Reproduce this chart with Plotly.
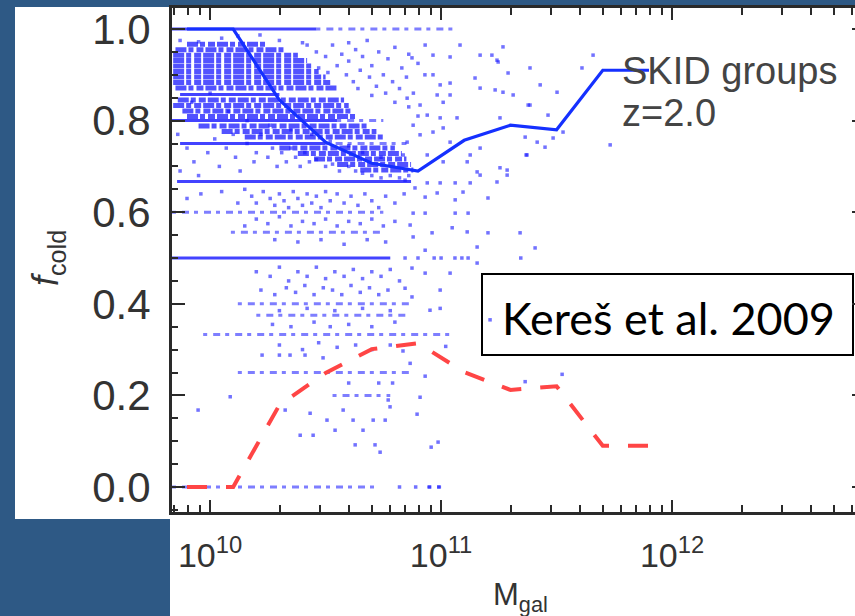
import plotly.graph_objects as go

# ---------------- data ----------------
# x values are log10(M_gal); converted to masses for the log axis
median_logm = [9.9, 10.1, 10.3, 10.5, 10.7, 10.9, 11.1, 11.3, 11.5, 11.7, 11.9]
median_f = [1.0, 1.0, 0.845, 0.753, 0.707, 0.69, 0.757, 0.79, 0.78, 0.91, 0.91]

red_logm = [9.9, 10.1, 10.3, 10.5, 10.7, 10.9, 11.1, 11.3, 11.5, 11.7, 11.9]
red_f = [0.0, 0.0, 0.179, 0.249, 0.301, 0.314, 0.251, 0.212, 0.22, 0.09, 0.09]

# rows of galaxies sitting on simple fractions (dense / sparse)
dense_row_f = [1.0, 0.857, 0.8, 0.75, 0.667, 0.5]
dense_row_x0 = [9.835, 9.87, 9.835, 9.87, 9.857, 9.835]
dense_row_x1 = [10.46, 10.3, 10.55, 10.5, 10.87, 10.78]

sparse_row_f = [1.0, 0.0, 0.0, 0.6, 0.556, 0.4, 0.375, 0.333, 0.25, 0.2, 0.75, 0.8]
sparse_row_x0 = [10.46, 9.835, 10.94, 9.835, 10.09, 10.12, 10.2, 9.97, 10.12, 10.53, 10.5, 10.55]
sparse_row_x1 = [11.05, 10.72, 11.0, 10.75, 10.75, 10.87, 10.85, 11.05, 10.87, 10.78, 10.85, 10.75]

# densely packed core of the cloud, seen as closely stacked rows
core_row_f = [0.967, 0.955, 0.943, 0.931, 0.919, 0.907, 0.895, 0.883, 0.871, 0.845, 0.833,
              0.821, 0.809, 0.788, 0.776, 0.764, 0.740, 0.728, 0.716, 0.704, 0.692]
core_row_x0 = [9.90, 9.85, 9.84, 9.84, 9.84, 9.84, 9.84, 9.84, 9.85, 9.86, 9.84,
               9.88, 9.90, 9.95, 10.05, 10.15, 10.30, 10.38, 10.45, 10.55, 10.65]
core_row_x1 = [10.25, 10.33, 10.38, 10.42, 10.45, 10.47, 10.50, 10.52, 10.55, 10.58, 10.60,
               10.62, 10.64, 10.68, 10.72, 10.75, 10.80, 10.83, 10.85, 10.87, 10.88]

# scattered galaxies outside the core
cloud_pts = [
    # inside / around the core
    (9.87, 0.975), (9.95, 0.972), (10.216, 0.987), (10.05, 0.98), (10.3, 0.975), (10.4, 0.97),
    (10.12, 0.985), (9.92, 0.84), (10.0, 0.86), (10.08, 0.82), (10.16, 0.8), (10.26, 0.79),
    (10.35, 0.78), (10.44, 0.77), (10.52, 0.755), (10.6, 0.745), (10.66, 0.73), (10.74, 0.72),
    # upper middle
    (10.42, 0.965), (10.46, 0.95), (10.5, 0.94), (10.53, 0.965), (10.57, 0.945), (10.6, 0.93),
    (10.63, 0.955), (10.66, 0.94), (10.7, 0.92), (10.73, 0.95), (10.77, 0.935), (10.8, 0.96),
    (10.83, 0.915), (10.86, 0.945), (10.47, 0.915), (10.51, 0.905), (10.55, 0.92), (10.59, 0.9),
    (10.62, 0.885), (10.65, 0.91), (10.69, 0.895), (10.72, 0.875), (10.75, 0.9), (10.79, 0.885),
    (10.82, 0.87), (10.85, 0.895), (10.88, 0.86), (10.6, 0.97), (10.68, 0.975), (10.9, 0.925),
    (10.93, 0.9), (10.76, 0.86), (10.8, 0.84), (10.86, 0.83), (10.9, 0.81), (10.7, 0.855), (10.64, 0.87),
    # right of the minimum
    (10.965, 0.943), (11.039, 0.939), (11.082, 0.965), (10.931, 0.965), (10.874, 0.937),
    (10.965, 0.9), (10.996, 0.878), (11.039, 0.882), (10.983, 0.856), (11.009, 0.84), (11.039, 0.856),
    (10.909, 0.834), (10.853, 0.849), (10.94, 0.812), (10.996, 0.806), (11.069, 0.806), (10.879, 0.79),
    (10.909, 0.769), (10.965, 0.775), (11.009, 0.784), (11.039, 0.753), (10.853, 0.753), (10.836, 0.725),
    (10.94, 0.725), (11.009, 0.71),
    (11.169, 0.943), (11.22, 0.943), (11.247, 0.928), (11.147, 0.893), (11.169, 0.871), (11.234, 0.867),
    (11.268, 0.862), (11.312, 0.856), (11.385, 0.834), (11.463, 0.812), (11.255, 0.806), (11.364, 0.764),
    (11.416, 0.753), (11.45, 0.742), (11.372, 0.725), (11.255, 0.697), (11.286, 0.692), (11.126, 0.725),
    (11.169, 0.74), (11.113, 0.71), (11.156, 0.688),
    (11.658, 0.943), (11.732, 0.747), (11.61, 0.915), (11.528, 0.775), (11.485, 0.762), (11.502, 0.862),
    (11.429, 0.878), (11.385, 0.915), (11.377, 0.834), (11.368, 0.725), (11.268, 0.961), (11.29, 0.904),
    (11.242, 0.932),
    # between 2/3 and 1/2
    (10.844, 0.67), (10.887, 0.653), (10.94, 0.664), (10.996, 0.664), (11.061, 0.664), (11.126, 0.664),
    (11.242, 0.666), (11.169, 0.681), (11.286, 0.681), (10.931, 0.633), (10.983, 0.642), (11.061, 0.627),
    (11.095, 0.644), (11.203, 0.631), (10.879, 0.598), (10.931, 0.598), (11.061, 0.598), (11.117, 0.598),
    (10.866, 0.572), (10.961, 0.555), (11.048, 0.566), (11.113, 0.557), (11.203, 0.555), (11.342, 0.555),
    (10.879, 0.546), (10.931, 0.517), (11.156, 0.524), (11.407, 0.522),
    (10.844, 0.5), (10.9, 0.5), (10.97, 0.5), (11.0, 0.5), (11.06, 0.5), (11.09, 0.5), (11.117, 0.5), (11.345, 0.5),
    (9.86, 0.77), (9.9, 0.74), (9.93, 0.71), (9.87, 0.69), (9.95, 0.68), (9.99, 0.73), (10.02, 0.76),
    (10.04, 0.70), (10.07, 0.74), (10.1, 0.77), (10.11, 0.72), (10.13, 0.69), (10.16, 0.75), (10.19, 0.71),
    (10.2, 0.73), (10.22, 0.77), (10.25, 0.72), (10.27, 0.74), (10.29, 0.70), (10.31, 0.73), (10.33, 0.71),
    (10.35, 0.74), (10.37, 0.72), (10.39, 0.70), (10.41, 0.73), (10.43, 0.71), (10.46, 0.715), (10.5, 0.70),
    (10.53, 0.705), (10.56, 0.69), (10.6, 0.70), (10.63, 0.69), (10.66, 0.685), (10.7, 0.68), (10.74, 0.675),
    (10.78, 0.68), (10.82, 0.675), (10.86, 0.68),
    (9.9, 0.63), (9.96, 0.64), (10.05, 0.645), (10.12, 0.62), (10.15, 0.65), (10.18, 0.635),
    (10.2, 0.62), (10.23, 0.645), (10.26, 0.63), (10.28, 0.615), (10.3, 0.64), (10.32, 0.625), (10.34, 0.61),
    (10.36, 0.645), (10.38, 0.63), (10.4, 0.615), (10.42, 0.64), (10.44, 0.62), (10.46, 0.635), (10.48, 0.61),
    (10.5, 0.645), (10.52, 0.625), (10.55, 0.64), (10.58, 0.62), (10.61, 0.635), (10.64, 0.615), (10.67, 0.64),
    (10.7, 0.625), (10.73, 0.61), (10.76, 0.635), (10.8, 0.62), (10.84, 0.64),
    (10.15, 0.57), (10.2, 0.585), (10.25, 0.575), (10.3, 0.59), (10.35, 0.57), (10.4, 0.58), (10.45, 0.575),
    (10.5, 0.585), (10.55, 0.57), (10.6, 0.58), (10.65, 0.575), (10.7, 0.585), (10.75, 0.57), (10.8, 0.58),
    (10.28, 0.54), (10.38, 0.535), (10.48, 0.54), (10.58, 0.53), (10.68, 0.54), (10.76, 0.535),
    # between 1/2 and 1/4
    (10.2, 0.47), (10.26, 0.46), (10.3, 0.48), (10.34, 0.45), (10.38, 0.47), (10.42, 0.46), (10.46, 0.48),
    (10.5, 0.455), (10.54, 0.47), (10.58, 0.46), (10.62, 0.475), (10.66, 0.455), (10.7, 0.47), (10.74, 0.46),
    (10.78, 0.475), (10.82, 0.45), (10.874, 0.478), (10.931, 0.467), (11.039, 0.467), (11.156, 0.489),
    (10.22, 0.43), (10.28, 0.42), (10.33, 0.435), (10.37, 0.425), (10.41, 0.44), (10.45, 0.42), (10.49, 0.435),
    (10.53, 0.43), (10.57, 0.42), (10.61, 0.44), (10.65, 0.425), (10.69, 0.435), (10.73, 0.42), (10.77, 0.43),
    (10.844, 0.434), (10.874, 0.415), (10.996, 0.43), (10.952, 0.386), (10.996, 0.39), (11.212, 0.365),
    (10.3, 0.385), (10.42, 0.39), (10.54, 0.385), (10.66, 0.39), (10.78, 0.385),
    (10.27, 0.355), (10.35, 0.35), (10.45, 0.36), (10.52, 0.35), (10.6, 0.355), (10.7, 0.35), (10.8, 0.36),
    (10.3, 0.31), (10.4, 0.3), (10.47, 0.315), (10.55, 0.305), (10.63, 0.31), (10.7, 0.3), (10.78, 0.31),
    (10.835, 0.297), (11.02, 0.307), (10.866, 0.27),
    (10.225, 0.288), (10.30, 0.288), (10.346, 0.288), (10.411, 0.288), (10.489, 0.282),
    # low fractions
    (10.087, 0.197), (9.948, 0.168), (10.325, 0.168), (10.433, 0.161), (10.506, 0.146), (10.619, 0.146),
    (10.706, 0.146), (10.758, 0.146), (10.39, 0.113), (10.446, 0.113), (10.541, 0.124), (10.662, 0.124),
    (10.628, 0.092), (10.714, 0.092), (10.736, 0.076), (10.576, 0.168), (10.771, 0.19),
    (10.6, 0.227), (10.73, 0.227), (10.79, 0.227), (10.931, 0.242), (10.909, 0.196), (10.896, 0.159),
    (10.779, 0.175), (10.957, 0.087), (10.987, 0.098), (11.364, 0.23), (11.524, 0.246),
    (10.82, 0.0), (10.89, 0.0), (10.95, 0.0), (10.99, 0.0),
]

tick_vals = [1e10, 1e11, 1e12]
tick_text = ["10<sup>10</sup>", "10<sup>11</sup>", "10<sup>12</sup>"]

# ---------------- figure ----------------
W, H = 855, 616
ML, MR, MT, MB = 172, 0, 8, 104
PW, PH = W - ML - MR, H - MT - MB


def px(x):
    return (x - ML) / PW


def py(y):
    return (H - MB - y) / PH


fig = go.Figure()


def rows_to_line(fs, x0s, x1s):
    xs, ys = [], []
    for f, a, b in zip(fs, x0s, x1s):
        xs += [10 ** a, 10 ** b, None]
        ys += [f, f, None]
    return xs, ys


xs, ys = rows_to_line(core_row_f, core_row_x0, core_row_x1)
fig.add_trace(go.Scatter(x=xs, y=ys, mode="lines", hoverinfo="skip",
                         line=dict(color="rgba(0,0,255,0.68)", width=5,
                                   dash="11px,2px,5px,3px,7px,2px")))
xs, ys = rows_to_line(dense_row_f, dense_row_x0, dense_row_x1)
fig.add_trace(go.Scatter(x=xs, y=ys, mode="lines", hoverinfo="skip",
                         line=dict(color="rgba(20,20,255,0.8)", width=3)))
xs, ys = rows_to_line(sparse_row_f, sparse_row_x0, sparse_row_x1)
fig.add_trace(go.Scatter(x=xs, y=ys, mode="lines", hoverinfo="skip",
                         line=dict(color="rgba(40,40,255,0.6)", width=3, dash="4px,6px,7px,5px")))

fig.add_trace(go.Scatter(x=[10 ** p[0] for p in cloud_pts], y=[p[1] for p in cloud_pts],
                         mode="markers", hoverinfo="skip",
                         marker=dict(symbol="square", size=3.5, color="rgba(20,20,255,0.6)",
                                     line=dict(width=0))))

fig.add_trace(go.Scatter(x=[10 ** v for v in median_logm], y=median_f, mode="lines",
                         line=dict(color="#1530ff", width=3.2), hoverinfo="skip"))
fig.add_trace(go.Scatter(x=[10 ** v for v in red_logm], y=red_f, mode="lines",
                         line=dict(color="#ff4545", width=4, dash="20px,19px"), hoverinfo="skip"))

# dummy trace so that the right-hand tick axis is drawn
fig.add_trace(go.Scatter(x=[None], y=[None], yaxis="y2", hoverinfo="skip"))

minor_x = [m * 10 ** k for k in range(9, 13) for m in range(2, 10)]

AX = "#2a2a2a"
fig.update_layout(
    width=W, height=H,
    margin=dict(l=ML, r=MR, t=MT, b=MB),
    paper_bgcolor="#2e5985",
    plot_bgcolor="white",
    showlegend=False,
    xaxis=dict(type="log", range=[9.835, 12.792], tickvals=tick_vals, ticktext=tick_text,
               ticks="inside", ticklen=12, tickwidth=2, tickcolor=AX,
               minor=dict(tickvals=minor_x, ticks="inside", ticklen=7, tickwidth=2, tickcolor=AX),
               showline=True, linewidth=3, linecolor=AX, mirror="ticks",
               showgrid=False, zeroline=False,
               tickfont=dict(family="Liberation Sans", size=34, color="#333"),
               ticklabelstandoff=11),
    yaxis=dict(range=[-0.0546, 1.0459], tickvals=[0, 0.2, 0.4, 0.6, 0.8, 1.0],
               ticktext=["0.0", "0.2", "0.4", "0.6", "0.8", "1.0"],
               ticks="inside", ticklen=13, tickwidth=2, tickcolor=AX,
               minor=dict(dtick=0.05, ticks="inside", ticklen=6, tickwidth=2, tickcolor=AX),
               showline=True, linewidth=3, linecolor=AX, mirror=False,
               showgrid=False, zeroline=False,
               tickfont=dict(family="Liberation Sans", size=42, color="#333"),
               ticklabelstandoff=10),
    yaxis2=dict(range=[-0.0546, 1.0459], overlaying="y", side="right",
                tickvals=[0, 0.2, 0.4, 0.6, 0.8, 1.0], ticks="inside", ticklen=3, tickwidth=2,
                tickcolor=AX, showticklabels=False, showline=False, showgrid=False, zeroline=False),
)

# white picture area of the slide
fig.add_shape(type="rect", xref="paper", yref="paper", layer="below",
              x0=px(15), x1=px(855), y0=py(519), y1=py(7),
              fillcolor="white", line=dict(width=0))
fig.add_shape(type="rect", xref="paper", yref="paper", layer="below",
              x0=px(170), x1=px(855), y0=py(616), y1=py(519),
              fillcolor="white", line=dict(width=0))
# citation box
fig.add_shape(type="rect", xref="paper", yref="paper", layer="below",
              x0=px(482), x1=px(853), y0=py(355), y1=py(274),
              fillcolor="white", line=dict(color="black", width=2))

fig.add_annotation(xref="paper", yref="paper", x=px(668), y=py(318), xanchor="center", yanchor="middle",
                   text="Kereš et al. 2009", showarrow=False,
                   font=dict(family="Lato", size=45, color="black"))
fig.add_annotation(xref="paper", yref="paper", x=px(620), y=py(71), xanchor="left", yanchor="middle",
                   text="SKID groups", showarrow=False,
                   font=dict(family="Liberation Sans", size=38, color="#444"))
fig.add_annotation(xref="paper", yref="paper", x=px(620), y=py(113), xanchor="left", yanchor="middle",
                   text="z=2.0", showarrow=False,
                   font=dict(family="Liberation Sans", size=38, color="#444"))
fig.add_annotation(xref="paper", yref="paper", x=px(520), y=py(597), xanchor="center", yanchor="middle",
                   text="M<sub>gal</sub>", showarrow=False,
                   font=dict(family="Liberation Sans", size=31, color="#333"))
fig.add_annotation(xref="paper", yref="paper", x=px(48), y=py(258), xanchor="center", yanchor="middle",
                   text="<i>f</i><sub>cold</sub>", textangle=-90, showarrow=False,
                   font=dict(family="Liberation Sans", size=36, color="#333"))

fig.write_html("out.html")
